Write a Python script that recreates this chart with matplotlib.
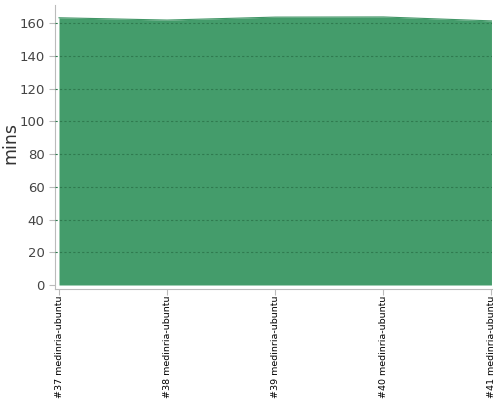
import matplotlib
matplotlib.use("Agg")
import matplotlib.pyplot as plt

builds = ["#37 medinria-ubuntu", "#38 medinria-ubuntu", "#39 medinria-ubuntu",
          "#40 medinria-ubuntu", "#41 medinria-ubuntu"]
mins = [163.2, 161.8, 163.6, 163.7, 161.3]
yticks = [0, 20, 40, 60, 80, 100, 120, 140, 160]

fig = plt.figure(figsize=(5, 4), dpi=100)
ax = fig.add_axes([0.11, 0.2775, 0.874, 0.71])

x = list(range(len(builds)))
ax.fill_between(x, 0, mins, color="#449c6b", linewidth=0, zorder=1)
ax.plot(x, mins, color="#419566", linewidth=0.8, zorder=2)

# dashed grid drawn over the fill
for t in yticks[1:]:
    ax.axhline(t, color="#2f7a4f", linestyle=(0, (2, 2)), linewidth=0.8, zorder=3)

ax.set_xlim(-0.037, 4.005)
ax.set_ylim(-2.44, 171)
ax.set_yticks(yticks)
ax.set_xticks(x)
ax.set_xticklabels(builds, rotation=90, fontsize=6.8, color="black", va="top")
ax.tick_params(axis="y", labelsize=9.5, labelcolor="#444444", color="#bbbbbb", length=4)
ax.tick_params(axis="x", color="#bbbbbb", length=4, pad=0.5)
ax.set_ylabel("mins", fontsize=12.5, color="#333333")
ax.yaxis.set_label_coords(-0.082, 0.514)

for side in ["top", "right"]:
    ax.spines[side].set_visible(False)
for side in ["left", "bottom"]:
    ax.spines[side].set_color("#bbbbbb")

fig.savefig("out.png", dpi=100)
